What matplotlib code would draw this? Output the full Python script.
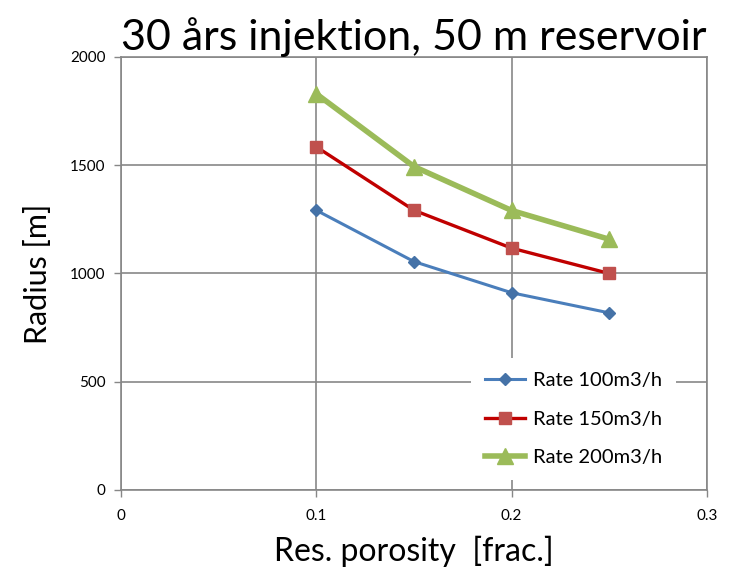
import matplotlib
matplotlib.use("Agg")
import matplotlib.pyplot as plt

plt.rcParams['font.family'] = ['Lato', 'DejaVu Sans']

porosity = [0.10, 0.15, 0.20, 0.25]
rate_100 = [1292, 1055, 911, 818]
rate_150 = [1585, 1292, 1117, 1000]
rate_200 = [1830, 1494, 1291, 1158]
labels = ["Rate 100m3/h", "Rate 150m3/h", "Rate 200m3/h"]
x_ticks = [0, 0.1, 0.2, 0.3]
y_ticks = [0, 500, 1000, 1500, 2000]

fig = plt.figure(figsize=(7.44, 5.70), dpi=100)
ax = fig.add_axes([0.1626, 0.1404, 0.7876, 0.7596])

ax.plot(porosity, rate_100, color="#4A7EBB", lw=2.2, marker="D", ms=6,
        mfc="#4572A7", mec="#4572A7", label=labels[0], zorder=3)
ax.plot(porosity, rate_150, color="#C00000", lw=2.4, marker="s", ms=8,
        mfc="#C0504D", mec="#C0504D", label=labels[1], zorder=3)
ax.plot(porosity, rate_200, color="#9BBB59", lw=4.0, marker="^", ms=11,
        mfc="#9BBB59", mec="#9BBB59", label=labels[2], zorder=3)

ax.set_xlim(0, 0.3)
ax.set_ylim(0, 2000)
ax.set_xticks(x_ticks)
ax.set_xticklabels(["0", "0.1", "0.2", "0.3"])
ax.set_yticks(y_ticks)
ax.tick_params(axis="both", labelsize=11, length=5,
               width=1, direction="out", color="#878787")
ax.tick_params(axis="x", pad=9)
ax.tick_params(axis="y", pad=6)

ax.grid(True, color="#878787", lw=1.2)
ax.set_axisbelow(True)
for s in ax.spines.values():
    s.set_color("#878787")
    s.set_linewidth(1.2)

ax.set_title("30 års injektion, 50 m reservoir", fontsize=31, pad=5)
ax.set_xlabel("Res. porosity  [frac.]", fontsize=23, labelpad=9)
ax.set_ylabel("Radius [m]", fontsize=22, labelpad=13)

leg = ax.legend(loc="lower right", bbox_to_anchor=(0.965, 0.0), frameon=True,
                fontsize=14.5, handlelength=2.0, labelspacing=1.05,
                handletextpad=0.4, borderpad=0.7, fancybox=False,
                framealpha=1)
leg.get_frame().set_edgecolor("white")
leg.get_frame().set_linewidth(0)

fig.savefig("out.png", dpi=100)
